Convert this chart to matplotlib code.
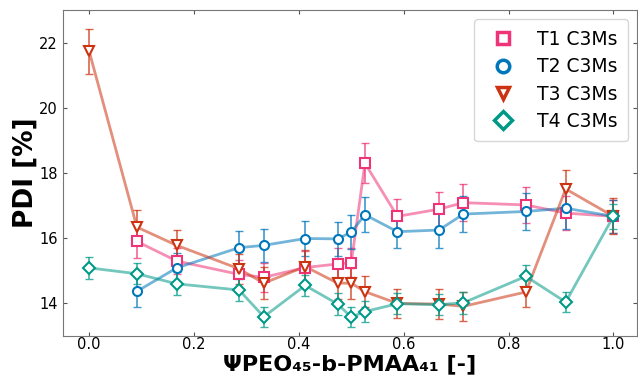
import numpy as np
import matplotlib.pyplot as plt
from matplotlib.lines import Line2D

# Frazione di PEO45-b-PMAA41
x_t1 = [0.091, 0.167, 0.286, 0.333, 0.412, 0.474, 0.5, 0.526, 0.588, 0.667, 0.714, 0.833, 0.909, 1.0]
y_t1 = [15.90, 15.30, 14.89, 14.80, 15.10, 15.21, 15.25, 18.30, 16.67, 16.89, 17.09, 17.02, 16.77, 16.67]
e_t1 = [0.50, 0.40, 0.45, 0.45, 0.50, 0.50, 0.45, 0.61, 0.53, 0.54, 0.56, 0.56, 0.53, 0.50]

x_t2 = [0.091, 0.167, 0.286, 0.333, 0.412, 0.474, 0.5, 0.526, 0.588, 0.667, 0.714, 0.833, 0.909, 1.0]
y_t2 = [14.37, 15.09, 15.71, 15.78, 15.99, 15.98, 16.19, 16.72, 16.20, 16.25, 16.74, 16.82, 16.92, 16.67]
e_t2 = [0.47, 0.45, 0.50, 0.51, 0.53, 0.53, 0.53, 0.54, 0.49, 0.54, 0.55, 0.56, 0.65, 0.50]

x_t3 = [0.0, 0.091, 0.167, 0.286, 0.333, 0.412, 0.474, 0.5, 0.526, 0.588, 0.667, 0.714, 0.833, 0.909, 1.0]
y_t3 = [21.73, 16.34, 15.78, 15.06, 14.62, 15.13, 14.62, 14.62, 14.36, 14.00, 13.98, 13.91, 14.35, 17.51, 16.67]
e_t3 = [0.70, 0.51, 0.48, 0.45, 0.50, 0.50, 0.50, 0.48, 0.48, 0.45, 0.45, 0.45, 0.47, 0.59, 0.55]

x_t4 = [0.0, 0.091, 0.167, 0.286, 0.333, 0.412, 0.474, 0.5, 0.526, 0.588, 0.667, 0.714, 0.833, 0.909, 1.0]
y_t4 = [15.09, 14.91, 14.60, 14.41, 13.59, 14.55, 13.98, 13.58, 13.75, 13.99, 13.96, 14.02, 14.83, 14.04, 16.67]
e_t4 = [0.34, 0.32, 0.35, 0.35, 0.30, 0.33, 0.33, 0.30, 0.32, 0.32, 0.32, 0.33, 0.34, 0.31, 0.39]

labels = ['T1 C3Ms', 'T2 C3Ms', 'T3 C3Ms', 'T4 C3Ms']
colors = ['#EE3377', '#0077BB', '#CC3311', '#009988']
markers = ['s', 'o', 'v', 'D']

series = [(x_t1, y_t1, e_t1), (x_t2, y_t2, e_t2), (x_t3, y_t3, e_t3), (x_t4, y_t4, e_t4)]

fig = plt.figure(figsize=(6.38, 3.79), dpi=100)
ax = fig.add_axes([63/638, 43/379, 574/638, 326/379])

handles = []
for (x, y, e), c, m, lab in zip(series, colors, markers, labels):
    ax.plot(x, y, '-', color=c, lw=2, alpha=0.55, zorder=2)
    ax.errorbar(x, y, yerr=e, fmt='none', ecolor=c, elinewidth=1.2, capsize=3, alpha=0.75, zorder=3)
    ms = 6.5 if m != 'D' else 6
    ax.plot(x, y, m, ls='none', color=c, mfc='white', mec=c, ms=ms, mew=1.5, zorder=4)
    handles.append(Line2D([], [], ls='none', marker=m, color=c, mfc='white', mec=c, ms=9, mew=2.5, label=lab))

ax.set_xlim(-0.05, 1.045)
ax.set_ylim(13, 23)
ax.set_yticks([14, 16, 18, 20, 22])
ax.tick_params(labelsize=10.5, length=3, color='#555555', direction='in', top=True, right=True)
ax.tick_params(axis='x', pad=0.5)
ax.tick_params(axis='y', pad=4)
for s in ax.spines.values():
    s.set_color('#777777')

ax.set_xlabel('ΨPEO₄₅-b-PMAA₄₁ [-]', fontsize=16, fontweight='bold')
ax.xaxis.set_label_coords(0.5, -0.055)
ax.set_ylabel('PDI [%]', fontsize=19, fontweight='bold', labelpad=0)

ax.legend(handles=handles, loc='upper right', fontsize=13.5, handletextpad=0.8,
          borderpad=0.55, labelspacing=0.45)

plt.savefig('out.png', dpi=100)
